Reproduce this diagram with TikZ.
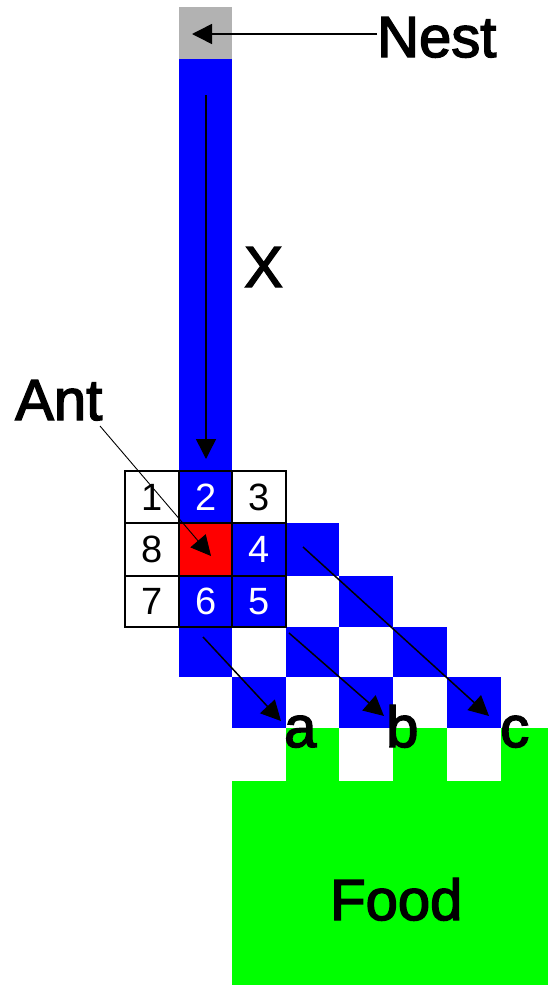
\documentclass[tikz,border=0pt]{standalone}
\usepackage{fontspec}
\setmainfont{Liberation Sans}
\newfontfamily\lblfont[FakeBold=2.5]{Liberation Sans}
\usetikzlibrary{arrows.meta}
\definecolor{pblue}{RGB}{0,0,255}
\definecolor{pred}{RGB}{255,0,0}
\definecolor{pgreen}{RGB}{0,255,0}
\definecolor{pgray}{RGB}{178,178,178}
\begin{document}
\begin{tikzpicture}[x=1pt,y=-1pt,
  lbl/.style={inner sep=0pt, anchor=base west, font=\lblfont\fontsize{58}{58}\selectfont},
  num/.style={inner sep=0pt, font=\fontsize{38}{38}\selectfont},
  arr/.style={-{Triangle[length=20pt,width=20pt]}, line width=1.5pt},
  thinarr/.style={-{Triangle[length=20pt,width=20pt]}, line width=0.9pt},
  bcell/.style={fill=pblue}]
\useasboundingbox (0,0) rectangle (548,985);
\fill[white] (0,0) rectangle (548,985);
% nest and trail
\fill[pgray] (179,7) rectangle (232,59);
\fill[bcell] (179,59) rectangle (232,677);
\fill[pred] (179,523) rectangle (232,576);
% diagonal band cells
\fill[bcell] (232,523) rectangle (286,627);
\fill[bcell] (232,677) rectangle (286,728);
\fill[bcell] (286,523) rectangle (339,576);
\fill[bcell] (286,627) rectangle (339,677);
\fill[bcell] (339,576) rectangle (393,627);
\fill[bcell] (339,677) rectangle (393,728);
\fill[bcell] (393,627) rectangle (447,677);
\fill[bcell] (447,677) rectangle (501,728);
% food
\fill[pgreen] (232,781) rectangle (548,985);
\fill[pgreen] (286,728) rectangle (339,781);
\fill[pgreen] (393,728) rectangle (447,781);
\fill[pgreen] (501,728) rectangle (548,781);
% neighbourhood grid
\draw[line width=1.5pt] (125,523) -- (286,523) (125,576) -- (286,576)
  (179,471) -- (179,627) (232,471) -- (232,627);
\draw[line width=2pt] (125,471) rectangle (286,627);
% numbers
\node[num] (n1) at (152,497) {1};
\node[num, text=white] (n2) at (206,497) {2};
\node[num] (n3) at (259,497) {3};
\node[num] (n8) at (152,549.5) {8};
\node[num, text=white] (n4) at (259,549.5) {4};
\node[num] (n7) at (152,601.5) {7};
\node[num, text=white] (n6) at (206,601.5) {6};
\node[num, text=white] (n5) at (259,601.5) {5};
% labels
\node[lbl] (nest) at (377,57) {Nest};
\node[lbl] (xl) at (244,287) {X};
\node[lbl] (ant) at (15,420) {Ant};
\node[lbl] (la) at (284,747) {a};
\node[lbl] (lb) at (386,747) {b};
\node[lbl] (lc) at (500,747) {c};
\node[lbl] (food) at (330,920) {Food};
% arrow ends
\coordinate (nestS) at (377,34);
\coordinate (nestT) at (192,34);
\coordinate (xS) at (206,95);
\coordinate (xT) at (206,459);
\coordinate (antS) at (100,426);
\coordinate (antT) at (211,556);
\coordinate (aS) at (203,637);
\coordinate (aT) at (281,721);
\coordinate (bS) at (289,633);
\coordinate (bT) at (384,716);
\coordinate (cS) at (303,547);
\coordinate (cT) at (489,716);
% arrows
\draw[arr] (nestS) -- (nestT);
\draw[arr] (xS) -- (xT);
\draw[thinarr] (antS) -- (antT);
\draw[arr] (aS) -- (aT);
\draw[arr] (bS) -- (bT);
\draw[arr] (cS) -- (cT);
\end{tikzpicture}
\end{document}
